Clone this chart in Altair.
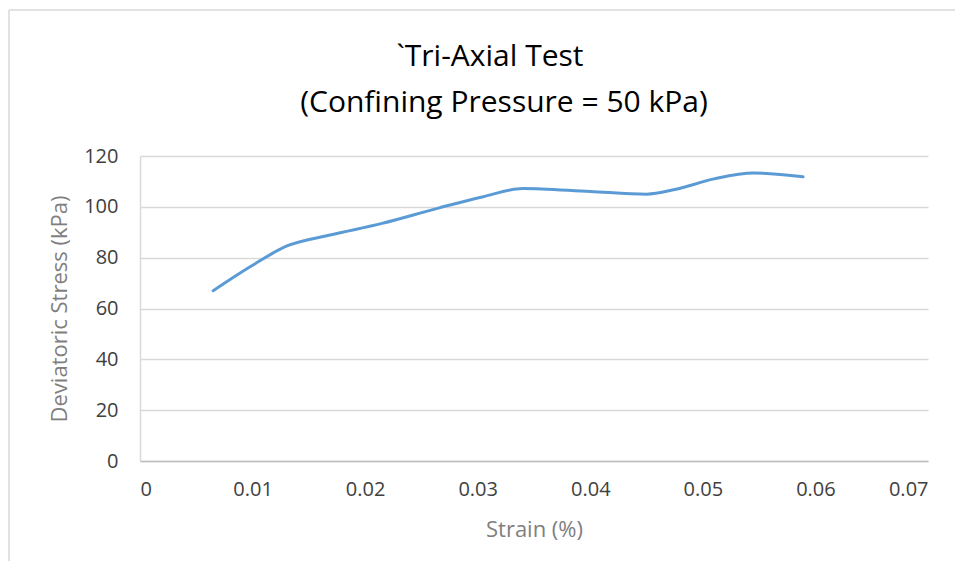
import altair as alt
import pandas as pd

strain = [0.0065, 0.0100, 0.0130, 0.0170, 0.0215, 0.0265, 0.0305, 0.0340, 0.0400, 0.0450, 0.0475, 0.0510, 0.0545, 0.0589]
stress = [67.0, 77.0, 84.5, 89.0, 93.5, 99.5, 104.0, 107.2, 106.0, 105.0, 106.8, 111.0, 113.3, 111.8]

x_ticks = [0, 0.01, 0.02, 0.03, 0.04, 0.05, 0.06, 0.07]
y_ticks = [0, 20, 40, 60, 80, 100, 120]

title_lines = ["`Tri-Axial Test", "(Confining Pressure = 50 kPa)"]

df = pd.DataFrame({"strain": strain, "stress": stress})
dummy = pd.DataFrame({"a": [0]})

FONT = "Open Sans"
LABEL = "#404040"
TITLE = "#7f7f7f"

line = alt.Chart(df).mark_line(
    color="#5B9BD5", strokeWidth=3, interpolate="monotone", strokeCap="round"
).encode(
    x=alt.X("strain:Q", scale=alt.Scale(domain=[0, 0.07], nice=False),
            axis=alt.Axis(values=x_ticks, title="Strain (%)", grid=False,
                          format="~g", ticks=False, domainColor="#bfbfbf",
                          domainWidth=1.5, labelPadding=18, titlePadding=20)),
    y=alt.Y("stress:Q", scale=alt.Scale(domain=[0, 120], nice=False),
            axis=alt.Axis(values=y_ticks, title="Deviatoric Stress (kPa)",
                          grid=True, gridColor="#d9d9d9", gridWidth=1.5,
                          ticks=False, domain=True, domainColor="#d9d9d9",
                          domainWidth=1.5, labelPadding=22, titlePadding=12)),
)

border_left = alt.Chart(dummy).mark_rule(color="#d9d9d9", strokeWidth=1.5).encode(
    x=alt.value(-131), y=alt.value(-146), y2=alt.value(420)
)
border_top = alt.Chart(dummy).mark_rule(color="#d9d9d9", strokeWidth=1.5).encode(
    x=alt.value(-131), x2=alt.value(840), y=alt.value(-146)
)

title1 = alt.Chart(dummy).mark_text(
    text=title_lines[0], font=FONT, fontSize=30, color="#000000", baseline="middle"
).encode(x=alt.value(350), y=alt.value(-99))
title2 = alt.Chart(dummy).mark_text(
    text=title_lines[1], font=FONT, fontSize=30, color="#000000", baseline="middle"
).encode(x=alt.value(364), y=alt.value(-53))

chart = alt.layer(border_left, border_top, title1, title2, line).properties(
    width=788, height=305,
    autosize=alt.AutoSizeParams(type="none"),
    padding={"left": 132, "top": 148, "right": 27, "bottom": 100},
).configure_view(stroke=None).configure_axis(
    labelFont=FONT, titleFont=FONT, labelFontSize=20, titleFontSize=22,
    labelColor=LABEL, titleColor=TITLE, titleFontWeight="normal",
)

chart.save("out.html", embed_options={"renderer": "svg", "actions": False})
